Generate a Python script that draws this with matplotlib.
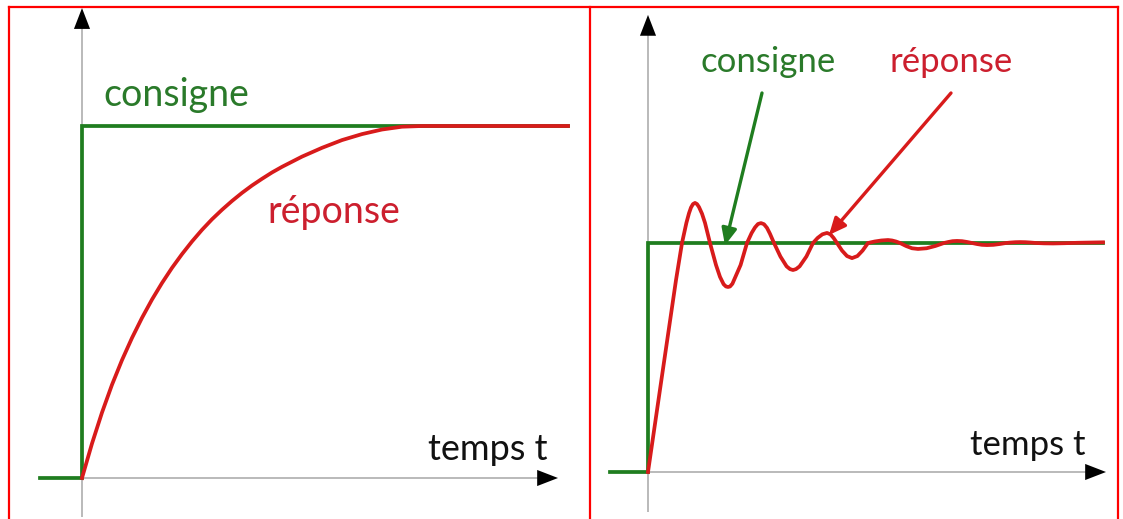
import matplotlib
matplotlib.use("Agg")
import matplotlib.pyplot as plt
from matplotlib.lines import Line2D

# ---------------- data ----------------
# Left panel: first-order response (time units, normalised amplitude)
left_set_t = [-1.05, 0.0, 0.0, 12.15]
left_set_y = [0.0, 0.0, 1.0, 1.0]
left_resp_t = [0.0, 0.25, 0.5, 0.75, 1.0, 1.25, 1.5, 1.75, 2.0, 2.25, 2.5,
               2.75, 3.0, 3.25, 3.5, 3.75, 4.0, 4.25, 4.5, 4.75, 5.0, 5.5,
               6.0, 6.5, 7.0, 7.5, 8.0, 8.5, 12.15]
left_resp_y = [0.0, 0.098, 0.186, 0.265, 0.335, 0.398, 0.455, 0.507, 0.554,
               0.597, 0.636, 0.672, 0.705, 0.735, 0.762, 0.787, 0.81, 0.831,
               0.85, 0.868, 0.884, 0.913, 0.938, 0.96, 0.977, 0.99, 0.998,
               1.0, 1.0]

# Right panel: underdamped (oscillating) response
right_set_t = [-1.9, 0.0, 0.0, 22.75]
right_set_y = [0.0, 0.0, 1.0, 1.0]
right_resp_t = [0.0, 0.7, 1.4, 1.7, 1.92, 2.05, 2.15, 2.25, 2.35, 2.45, 2.55,
                2.7, 2.85, 3.1, 3.4, 3.6, 3.78, 3.9, 4.0, 4.1, 4.22, 4.4,
                4.63, 4.95, 5.18, 5.35, 5.5, 5.65, 5.8, 5.95, 6.1, 6.3, 6.62,
                6.93, 7.1, 7.25, 7.4, 7.58, 7.92, 8.25, 8.48, 8.72, 8.95,
                9.12, 9.28, 9.45, 9.7, 9.95, 10.2, 10.47, 10.73, 11.0,
                11.33, 11.67, 12.0, 12.2, 12.4, 12.6, 12.9, 13.2, 13.5,
                13.93, 14.37, 14.8, 15.02, 15.23, 15.45, 15.7, 15.95, 16.2,
                16.45, 16.7, 16.95, 17.27, 17.58, 17.9, 18.13, 18.37, 18.6,
                18.87, 19.13, 19.4, 19.8, 20.25, 20.8, 21.5, 22.75]
right_resp_y = [0.0, 0.42, 0.838, 1.0, 1.088, 1.13, 1.155, 1.17, 1.175,
                1.17, 1.157, 1.128, 1.088, 1.0, 0.904, 0.852, 0.82, 0.81,
                0.808, 0.81, 0.822, 0.858, 0.904, 1.0, 1.0435, 1.068, 1.083,
                1.087, 1.082, 1.066, 1.04, 1.0, 0.941, 0.898, 0.886, 0.882,
                0.886, 0.898, 0.941, 1.0, 1.022, 1.038, 1.044, 1.038, 1.022,
                1.0, 0.967, 0.943, 0.934, 0.943, 0.967, 1.0, 1.0065, 1.011,
                1.013, 1.011, 1.0065, 1.0, 0.987, 0.977, 0.974, 0.977,
                0.987, 1.0, 1.0045, 1.008, 1.009, 1.008, 1.0045, 1.0,
                0.9955, 0.992, 0.991, 0.992, 0.9955, 1.0, 1.002, 1.0035,
                1.004, 1.0035, 1.002, 1.0, 0.9985, 0.998, 0.999, 1.001,
                1.003]

label_set = "consigne"
label_resp = "réponse"
label_time = "temps t"

# ---------------- style ----------------
GREEN = "#1f7d1f"
RED = "#d81b1b"
GREEN_TXT = "#2a7a2a"
RED_TXT = "#cc1f2e"
GRAY = "#b4b4b4"
FONT = "Lato"
LW = 2.7
W, H = 1123, 519

fig = plt.figure(figsize=(W / 100, H / 100), dpi=100)

# left axes: t=(x-82)/40, y=(478-ypx)/352
axL = fig.add_axes([0, 0, 1, 1])
axL.set_xlim(-82 / 40, (W - 82) / 40)
axL.set_ylim((478 - H) / 352, 478 / 352)
# right axes: t=(x-648)/20, y=(472-ypx)/229
axR = fig.add_axes([0, 0, 1, 1])
axR.set_xlim(-648 / 20, (W - 648) / 20)
axR.set_ylim((472 - H) / 229, 472 / 229)
for ax in (axL, axR):
    ax.axis("off")
    ax.patch.set_alpha(0)


def axis_arrow(ax, start, end, tip):
    ax.plot([start[0], end[0]], [start[1], end[1]], color=GRAY, lw=1.3,
            solid_capstyle="butt", zorder=1, clip_on=False)
    ax.annotate("", xy=tip, xytext=end,
                arrowprops=dict(arrowstyle="-|>,head_length=15,head_width=5.8",
                                mutation_scale=1, color="black", lw=0,
                                shrinkA=0, shrinkB=0),
                annotation_clip=False, zorder=2)


# ---- left panel ----
axis_arrow(axL, (0, -0.111), (0, 1.30), (0, 1.335))
axis_arrow(axL, (0, 0), (11.6, 0), (11.9, 0))
axL.plot(left_set_t, left_set_y, color=GREEN, lw=LW, zorder=3,
         solid_joinstyle="miter")
axL.plot(left_resp_t, left_resp_y, color=RED, lw=LW, zorder=4,
         solid_joinstyle="round")
axL.text(0.525, 1.057, label_set, color=GREEN_TXT, fontsize=27,
         family=FONT, ha="left", va="baseline")
axL.text(4.625, 0.724, label_resp, color=RED_TXT, fontsize=27,
         family=FONT, ha="left", va="baseline")
axL.text(8.65, 0.051, label_time, color="#111111", fontsize=26,
         family=FONT, ha="left", va="baseline")

# ---- right panel ----
axis_arrow(axR, (0, -0.175), (0, 1.92), (0, 1.996))
axis_arrow(axR, (0, 0), (22.0, 0), (22.9, 0))
axR.plot(right_set_t, right_set_y, color=GREEN, lw=LW, zorder=3,
         solid_joinstyle="miter")
axR.plot(right_resp_t, right_resp_y, color=RED, lw=LW, zorder=4,
         solid_joinstyle="round")
axR.text(6.0, 1.747, label_set, color=GREEN_TXT, fontsize=25,
         family=FONT, ha="center", va="baseline")
axR.text(15.15, 1.747, label_resp, color=RED_TXT, fontsize=25,
         family=FONT, ha="center", va="baseline")
axR.text(16.1, 0.074, label_time, color="#111111", fontsize=25,
         family=FONT, ha="left", va="baseline")
axR.annotate("", xy=(3.85, 0.99), xytext=(5.7, 1.655),
             arrowprops=dict(arrowstyle="-|>,head_length=10,head_width=4.5",
                             mutation_scale=1, color=GREEN, lw=2.4,
                             shrinkA=0, shrinkB=0), zorder=5)
axR.annotate("", xy=(9.05, 1.035), xytext=(15.15, 1.655),
             arrowprops=dict(arrowstyle="-|>,head_length=10,head_width=4.5",
                             mutation_scale=1, color=RED, lw=2.4,
                             shrinkA=0, shrinkB=0), zorder=5)

# ---- red panel borders ----
def fx(px):
    return px / W


def fy(py):
    return 1 - py / H


for x0 in (9, 590, 1118):
    fig.add_artist(Line2D([fx(x0), fx(x0)], [fy(7), fy(H + 5)],
                          color="#ff0000", lw=1.6))
fig.add_artist(Line2D([fx(9), fx(1118)], [fy(7), fy(7)],
                      color="#ff0000", lw=1.6))

fig.savefig("out.png", dpi=100, facecolor="white")
